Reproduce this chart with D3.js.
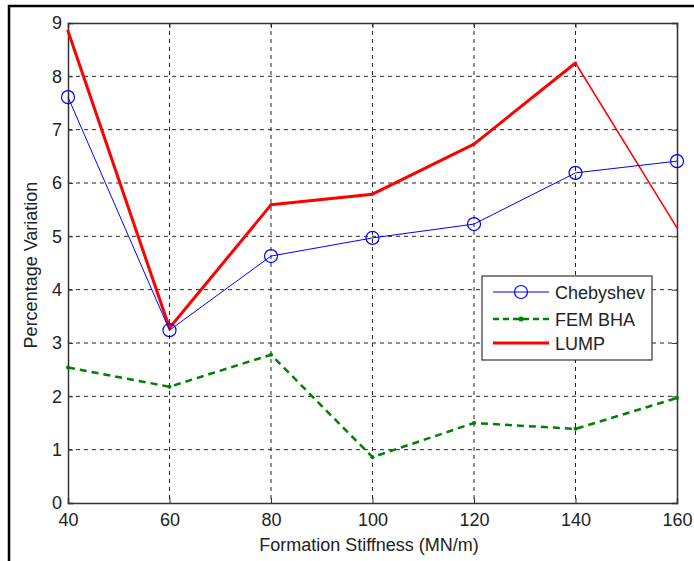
<!DOCTYPE html>
<html>
<head>
<meta charset="utf-8">
<script src="https://cdn.jsdelivr.net/npm/d3@7"></script>
<style>
  body { margin: 0; background: #fff; }
  text { font-family: "Liberation Sans", Arial, sans-serif; }
</style>
</head>
<body>
<div id="chart"></div>
<script>
const width = 694;
const height = 561;

// data
const stiffness = [40, 60, 80, 100, 120, 140, 160];
const chebyshev = [7.61, 3.24, 4.63, 4.97, 5.23, 6.19, 6.41];
const femBha = [2.54, 2.18, 2.78, 0.86, 1.50, 1.39, 1.97];
const lump = [8.85, 3.28, 5.59, 5.79, 6.73, 8.25, 5.16];
const xTicks = [40, 60, 80, 100, 120, 140, 160];
const yTicks = [0, 1, 2, 3, 4, 5, 6, 7, 8, 9];

const margin = { left: 68, top: 23, right: 677, bottom: 503 };

const svg = d3.select("#chart")
    .append("svg")
    .attr("width", width)
    .attr("height", height);

// outer frame (left and top edges visible)
svg.append("path")
    .attr("d", `M9,${height} V6 H${width}`)
    .attr("fill", "none")
    .attr("stroke", "#000")
    .attr("stroke-width", 2.5);

const x = d3.scaleLinear().domain([40, 160]).range([margin.left, margin.right]);
const y = d3.scaleLinear().domain([0, 9]).range([margin.bottom, margin.top]);

// grid
const grid = svg.append("g");
grid.selectAll(".vg").data(xTicks.slice(1, -1)).enter()
    .append("line")
    .attr("x1", d => x(d)).attr("x2", d => x(d))
    .attr("y1", margin.top).attr("y2", margin.bottom)
    .attr("stroke", "#222").attr("stroke-dasharray", "4,4");
grid.selectAll(".hg").data(yTicks.slice(1, -1)).enter()
    .append("line")
    .attr("y1", d => y(d)).attr("y2", d => y(d))
    .attr("x1", margin.left).attr("x2", margin.right)
    .attr("stroke", "#222").attr("stroke-dasharray", "4,4");

// axes
const xAxis = d3.axisBottom(x).tickValues(xTicks).tickSize(-5).tickPadding(10);
const yAxis = d3.axisLeft(y).tickValues(yTicks).tickSize(-5).tickPadding(6);

svg.append("g").attr("transform", `translate(0,${margin.bottom})`).call(xAxis);
svg.append("g").attr("transform", `translate(${margin.left},0)`).call(yAxis);
svg.append("g").attr("transform", `translate(0,${margin.top})`)
    .call(d3.axisTop(x).tickValues(xTicks).tickSize(-5).tickFormat(""));
svg.append("g").attr("transform", `translate(${margin.right},0)`)
    .call(d3.axisRight(y).tickValues(yTicks).tickSize(-5).tickFormat(""));

svg.selectAll(".domain").attr("stroke", "#333").attr("stroke-width", 1.5);
svg.selectAll(".tick line").attr("stroke", "#333");
svg.selectAll(".tick text")
    .attr("font-size", 18)
    .attr("fill", "#222")
    .attr("font-family", "'Liberation Sans', Arial, sans-serif");

// axis titles
svg.append("text")
    .attr("x", 369)
    .attr("y", 551)
    .attr("text-anchor", "middle")
    .attr("font-size", 18)
    .attr("fill", "#222")
    .text("Formation Stiffness (MN/m)");

svg.append("text")
    .attr("transform", "translate(37,265) rotate(-90)")
    .attr("text-anchor", "middle")
    .attr("font-size", 18)
    .attr("fill", "#222")
    .text("Percentage Variation");

const line = d3.line().x((d, i) => x(stiffness[i])).y(d => y(d));

// FEM BHA
svg.append("path")
    .datum(femBha)
    .attr("d", line)
    .attr("fill", "none")
    .attr("stroke", "#008000")
    .attr("stroke-width", 2.5)
    .attr("stroke-dasharray", "7,5");
svg.selectAll(".fdot").data(femBha).enter()
    .append("circle")
    .attr("cx", (d, i) => x(stiffness[i]))
    .attr("cy", d => y(d))
    .attr("r", 2)
    .attr("fill", "#008000");

// LUMP (last segment drawn thinner, as in the source)
const lumpPairs = d3.pairs(lump.map((d, i) => [stiffness[i], d]));
svg.selectAll(".lseg").data(lumpPairs).enter()
    .append("line")
    .attr("x1", d => x(d[0][0])).attr("y1", d => y(d[0][1]))
    .attr("x2", d => x(d[1][0])).attr("y2", d => y(d[1][1]))
    .attr("stroke", "#ff0000")
    .attr("stroke-linecap", "round")
    .attr("stroke-width", (d, i) => i === lumpPairs.length - 1 ? 1.5 : 3);

// Chebyshev
svg.append("path")
    .datum(chebyshev)
    .attr("d", line)
    .attr("fill", "none")
    .attr("stroke", "#0000ff")
    .attr("stroke-width", 1);
svg.selectAll(".cdot").data(chebyshev).enter()
    .append("circle")
    .attr("cx", (d, i) => x(stiffness[i]))
    .attr("cy", d => y(d))
    .attr("r", 6.5)
    .attr("fill", "none")
    .attr("stroke", "#0000ff")
    .attr("stroke-width", 1.2);

// legend
const legend = svg.append("g").attr("transform", "translate(482,276)");
legend.append("rect")
    .attr("width", 170).attr("height", 84)
    .attr("fill", "#fff").attr("stroke", "#333").attr("stroke-width", 1.2);

const legendItems = [
    { name: "Chebyshev", color: "#0000ff", w: 1, dash: null, marker: "circle" },
    { name: "FEM BHA", color: "#008000", w: 2.5, dash: "6,4", marker: "dot" },
    { name: "LUMP", color: "#ff0000", w: 3, dash: null, marker: null }
];
const li = legend.selectAll(".li").data(legendItems).enter()
    .append("g")
    .attr("transform", (d, i) => `translate(0,${[16, 43, 67][i]})`);
li.append("line")
    .attr("x1", 11).attr("x2", 67)
    .attr("stroke", d => d.color)
    .attr("stroke-width", d => d.w)
    .attr("stroke-dasharray", d => d.dash);
li.filter(d => d.marker === "circle").append("circle")
    .attr("cx", 39).attr("r", 6.5)
    .attr("fill", "none").attr("stroke", "#0000ff").attr("stroke-width", 1.2);
li.filter(d => d.marker === "dot").append("circle")
    .attr("cx", 39).attr("r", 2.5).attr("fill", "#008000");
li.append("text")
    .attr("x", 73).attr("y", 7)
    .attr("font-size", 18)
    .attr("fill", "#222")
    .text(d => d.name);
</script>
</body>
</html>
